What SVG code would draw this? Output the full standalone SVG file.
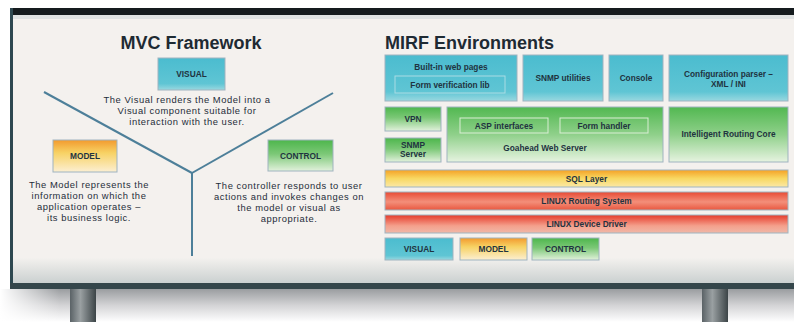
<svg xmlns="http://www.w3.org/2000/svg" width="794" height="322" viewBox="0 0 794 322">
<defs>
<linearGradient id="gTeal" x1="0" y1="0" x2="0" y2="1">
<stop offset="0" stop-color="#4bbccf"/><stop offset="0.8" stop-color="#5fc5d4"/><stop offset="1" stop-color="#9ad8e0"/>
</linearGradient>
<linearGradient id="gOrange" x1="0" y1="0" x2="0" y2="1">
<stop offset="0" stop-color="#f29a2e"/><stop offset="0.4" stop-color="#f7d264"/><stop offset="1" stop-color="#fcefd2"/>
</linearGradient>
<linearGradient id="gGreen" x1="0" y1="0" x2="0" y2="1">
<stop offset="0" stop-color="#4db64c"/><stop offset="0.45" stop-color="#7cc877"/><stop offset="1" stop-color="#e2f1dc"/>
</linearGradient>
<linearGradient id="gGreenBig" x1="0" y1="0" x2="0" y2="1">
<stop offset="0" stop-color="#52b851"/><stop offset="0.5" stop-color="#8fd08a"/><stop offset="1" stop-color="#e6f3e0"/>
</linearGradient>
<linearGradient id="gSql" x1="0" y1="0" x2="0" y2="1">
<stop offset="0" stop-color="#f4a126"/><stop offset="0.5" stop-color="#f8d862"/><stop offset="1" stop-color="#fbe8a6"/>
</linearGradient>
<linearGradient id="gRed" x1="0" y1="0" x2="0" y2="1">
<stop offset="0" stop-color="#e84a34"/><stop offset="0.55" stop-color="#f38f7a"/><stop offset="1" stop-color="#e9573f"/>
</linearGradient>
<linearGradient id="gRed2" x1="0" y1="0" x2="0" y2="1">
<stop offset="0" stop-color="#e63a2a"/><stop offset="0.6" stop-color="#f4a08c"/><stop offset="1" stop-color="#f0b8a8"/>
</linearGradient>
<linearGradient id="gBoardBottom" x1="0" y1="0" x2="0" y2="1">
<stop offset="0" stop-color="#f3f1ee"/><stop offset="1" stop-color="#c9cfcf"/>
</linearGradient>
<linearGradient id="gShadow" x1="0" y1="0" x2="0" y2="1">
<stop offset="0" stop-color="#9a9da0"/><stop offset="0.5" stop-color="#d4d4d6"/><stop offset="1" stop-color="#ffffff"/>
</linearGradient>
<linearGradient id="gShadowL" x1="0" y1="0" x2="1" y2="0">
<stop offset="0" stop-color="#ffffff" stop-opacity="1"/><stop offset="1" stop-color="#ffffff" stop-opacity="0"/>
</linearGradient>
<linearGradient id="gLeg" x1="0" y1="0" x2="1" y2="0">
<stop offset="0" stop-color="#5a6266"/><stop offset="0.4" stop-color="#9aa0a2"/><stop offset="1" stop-color="#3c4447"/>
</linearGradient>
<style>
.title{font-family:"Liberation Sans",Arial,sans-serif;font-weight:bold;font-size:18px;fill:#1e2a33}
.body{font-family:"Liberation Sans",Arial,sans-serif;font-size:9.4px;letter-spacing:0.55px;fill:#1f2d3a;text-anchor:middle}
.lbl{font-family:"Liberation Sans",Arial,sans-serif;font-weight:bold;font-size:8.3px;fill:#1f3340;text-anchor:middle}
.box{stroke:#9fb4bf;stroke-width:1}
.conn{stroke:#4d7f99;stroke-width:2;fill:none}
</style>
</defs>

<!-- board & frame -->
<rect x="0" y="0" width="794" height="322" fill="#ffffff"/>
<rect x="0" y="289" width="794" height="33" fill="url(#gShadow)"/>
<rect x="0" y="289" width="60" height="33" fill="url(#gShadowL)"/>
<rect x="10" y="8" width="784" height="281" fill="#f4f1ee"/>
<rect x="10" y="258" width="784" height="26" fill="url(#gBoardBottom)"/>
<rect x="13" y="15" width="781" height="4" fill="#dfe2e2"/>
<rect x="10" y="8" width="784" height="7" fill="#151b1e"/>
<rect x="10" y="8" width="3" height="280" fill="#2e4850"/>
<rect x="10" y="283" width="784" height="6" fill="#34464b"/>
<rect x="70" y="289" width="26" height="33" fill="url(#gLeg)"/>
<rect x="702" y="289" width="26" height="33" fill="url(#gLeg)"/>

<!-- MVC framework -->
<text class="title" x="191" y="49" text-anchor="middle">MVC Framework</text>
<g id="connectors">
<line class="conn" x1="44" y1="92" x2="192" y2="173"/>
<line class="conn" x1="333" y1="93" x2="192" y2="173"/>
<line class="conn" x1="192" y1="173" x2="192" y2="256"/>
</g>
<g id="mvc-visual">
<rect class="box" x="158" y="58" width="67" height="32" fill="url(#gTeal)"/>
<text class="lbl" x="191.5" y="77">VISUAL</text>
</g>
<g id="mvc-visual-text">
<text class="body" x="187" y="103">The Visual renders the Model into a</text>
<text class="body" x="187" y="114">Visual component suitable for</text>
<text class="body" x="187" y="125">interaction with the user.</text>
</g>
<g id="mvc-model">
<rect class="box" x="53" y="140" width="64" height="32" fill="url(#gOrange)"/>
<text class="lbl" x="85" y="159">MODEL</text>
</g>
<g id="mvc-model-text">
<text class="body" x="89" y="188">The Model represents the</text>
<text class="body" x="89" y="199">information on which the</text>
<text class="body" x="89" y="210">application operates –</text>
<text class="body" x="89" y="221">its business logic.</text>
</g>
<g id="mvc-control">
<rect class="box" x="268" y="140" width="65" height="31" fill="url(#gGreen)"/>
<text class="lbl" x="300.5" y="159">CONTROL</text>
</g>
<g id="mvc-control-text">
<text class="body" x="289" y="189">The controller responds to user</text>
<text class="body" x="289" y="200">actions and invokes changes on</text>
<text class="body" x="289" y="211">the model or visual as</text>
<text class="body" x="289" y="222">appropriate.</text>
</g>

<!-- MIRF environments -->
<text class="title" x="385" y="49">MIRF Environments</text>
<g id="built-in-web-pages">
<rect class="box" x="385" y="55" width="132" height="46" fill="url(#gTeal)"/>
<text class="lbl" x="451" y="70">Built-in web pages</text>
<rect x="395" y="76" width="110" height="17" fill="none" stroke="#a9dbe3" stroke-width="1"/>
<text class="lbl" x="450" y="87.5">Form verification lib</text>
</g>
<g id="snmp-utilities">
<rect class="box" x="523" y="55" width="80" height="46" fill="url(#gTeal)"/>
<text class="lbl" x="563" y="81">SNMP utilities</text>
</g>
<g id="console">
<rect class="box" x="609" y="55" width="54" height="46" fill="url(#gTeal)"/>
<text class="lbl" x="636" y="81">Console</text>
</g>
<g id="config-parser">
<rect class="box" x="669" y="55" width="119" height="46" fill="url(#gTeal)"/>
<text class="lbl" x="728.5" y="77">Configuration parser –</text>
<text class="lbl" x="728.5" y="87">XML / INI</text>
</g>
<g id="vpn">
<rect class="box" x="385" y="107" width="56" height="24" fill="url(#gGreen)"/>
<text class="lbl" x="413" y="122">VPN</text>
</g>
<g id="snmp-server">
<rect class="box" x="385" y="138" width="56" height="24" fill="url(#gGreen)"/>
<text class="lbl" x="413" y="148">SNMP</text>
<text class="lbl" x="413" y="157">Server</text>
</g>
<g id="goahead-web-server">
<rect class="box" x="447" y="107" width="216" height="55" fill="url(#gGreenBig)"/>
<rect x="460" y="118" width="88" height="15" fill="none" stroke="#d9eed4" stroke-width="1"/>
<text class="lbl" x="504" y="128.5">ASP interfaces</text>
<rect x="560" y="118" width="88" height="15" fill="none" stroke="#d9eed4" stroke-width="1"/>
<text class="lbl" x="604" y="128.5">Form handler</text>
<text class="lbl" x="545" y="151">Goahead Web Server</text>
</g>
<g id="intelligent-routing-core">
<rect class="box" x="669" y="107" width="119" height="55" fill="url(#gGreenBig)"/>
<text class="lbl" x="728.5" y="137">Intelligent Routing Core</text>
</g>
<g id="sql-layer">
<rect class="box" x="385" y="170" width="403" height="17" fill="url(#gSql)"/>
<text class="lbl" x="586.5" y="181.5">SQL Layer</text>
</g>
<g id="linux-routing-system">
<rect class="box" x="385" y="192" width="403" height="18" fill="url(#gRed)"/>
<text class="lbl" x="586.5" y="204">LINUX Routing System</text>
</g>
<g id="linux-device-driver">
<rect class="box" x="385" y="215" width="403" height="18" fill="url(#gRed2)"/>
<text class="lbl" x="586.5" y="227">LINUX Device Driver</text>
</g>
<g id="legend-visual">
<rect class="box" x="385" y="238" width="68" height="22" fill="url(#gTeal)"/>
<text class="lbl" x="419" y="252">VISUAL</text>
</g>
<g id="legend-model">
<rect class="box" x="460" y="238" width="67" height="22" fill="url(#gOrange)"/>
<text class="lbl" x="493.5" y="252">MODEL</text>
</g>
<g id="legend-control">
<rect class="box" x="532" y="238" width="67" height="22" fill="url(#gGreen)"/>
<text class="lbl" x="565.5" y="252">CONTROL</text>
</g>
</svg>
